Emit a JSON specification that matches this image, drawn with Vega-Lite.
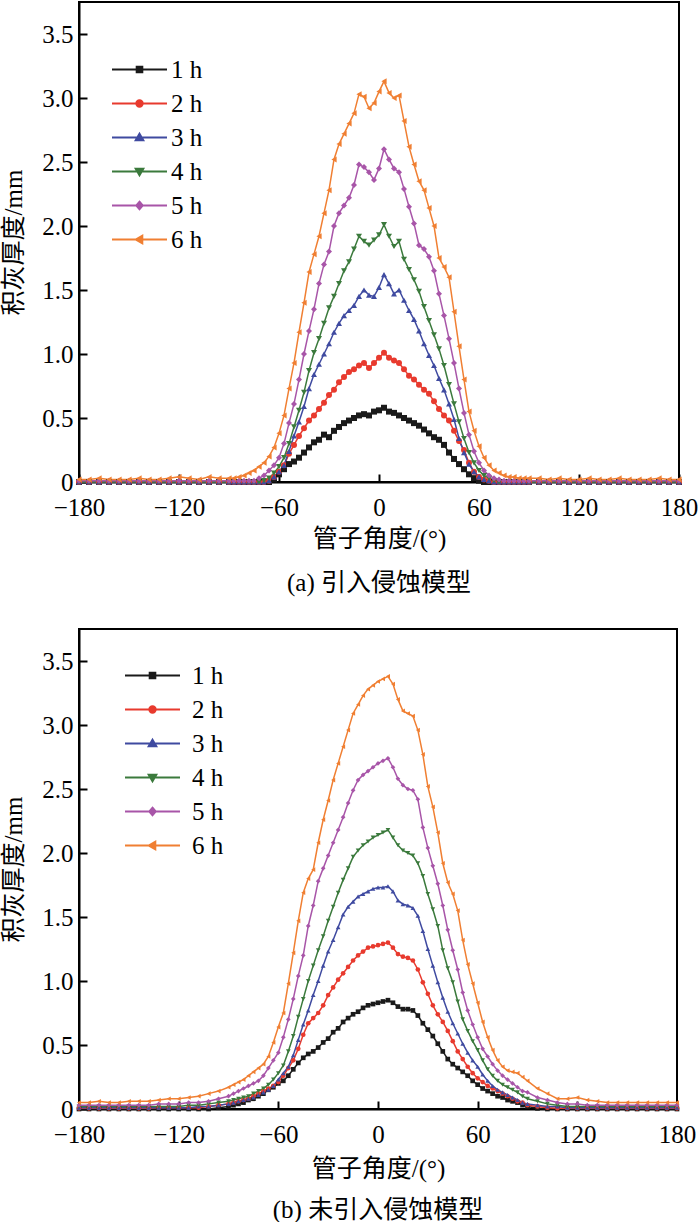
{
"$schema": "https://vega.github.io/schema/vega-lite/v6.json",
"background": "white",
"padding": {"left": 0, "top": 1, "right": 18, "bottom": 0},
"spacing": 31,
"resolve": {"scale": {"color": "independent", "shape": "independent"}, "legend": {"color": "independent", "shape": "independent"}},
"config": {
  "font": "Liberation Serif",
  "view": {"stroke": "black", "strokeWidth": 2},
  "axis": {"grid": false, "domainColor": "black", "domainWidth": 2, "tickColor": "black", "tickWidth": 2, "tickSize": -8, "labelFont": "Liberation Serif", "labelFontSize": 25, "labelColor": "black", "labelFlush": false, "labelOverlap": false, "titleFont": "Liberation Serif, Noto Sans CJK SC", "titleFontSize": 25, "titleFontWeight": "normal", "titleColor": "black"},
  "legend": {"title": null, "orient": "none", "labelFont": "Liberation Serif", "labelFontSize": 25, "labelColor": "black", "symbolSize": 400, "symbolStrokeWidth": 2, "symbolOpacity": 1, "rowPadding": 8, "padding": 0}
},
"datasets": {
"a": [
{"a":-180,"1 h":0,"2 h":0,"3 h":0,"4 h":0,"5 h":0.01,"6 h":0.02},
{"a":-174,"1 h":0,"2 h":0,"3 h":0,"4 h":0,"5 h":0.01,"6 h":0.02},
{"a":-168,"1 h":0,"2 h":0,"3 h":0,"4 h":0,"5 h":0.01,"6 h":0.03},
{"a":-162,"1 h":0,"2 h":0,"3 h":0,"4 h":0,"5 h":0.01,"6 h":0.02},
{"a":-156,"1 h":0,"2 h":0,"3 h":0,"4 h":0,"5 h":0.01,"6 h":0.02},
{"a":-150,"1 h":0,"2 h":0,"3 h":0,"4 h":0,"5 h":0.01,"6 h":0.02},
{"a":-144,"1 h":0,"2 h":0,"3 h":0,"4 h":0,"5 h":0.01,"6 h":0.03},
{"a":-138,"1 h":0,"2 h":0,"3 h":0,"4 h":0,"5 h":0.01,"6 h":0.02},
{"a":-132,"1 h":0,"2 h":0,"3 h":0,"4 h":0,"5 h":0.01,"6 h":0.02},
{"a":-126,"1 h":0,"2 h":0,"3 h":0,"4 h":0,"5 h":0.01,"6 h":0.03},
{"a":-120,"1 h":0,"2 h":0,"3 h":0,"4 h":0,"5 h":0.01,"6 h":0.04},
{"a":-114,"1 h":0,"2 h":0,"3 h":0,"4 h":0,"5 h":0.01,"6 h":0.03},
{"a":-108,"1 h":0,"2 h":0,"3 h":0,"4 h":0,"5 h":0.01,"6 h":0.02},
{"a":-102,"1 h":0,"2 h":0,"3 h":0,"4 h":0,"5 h":0.01,"6 h":0.04},
{"a":-96,"1 h":0,"2 h":0,"3 h":0,"4 h":0,"5 h":0.01,"6 h":0.03},
{"a":-90,"1 h":0,"2 h":0,"3 h":0,"4 h":0,"5 h":0.01,"6 h":0.03},
{"a":-87,"1 h":0,"2 h":0,"3 h":0,"4 h":0,"5 h":0.01,"6 h":0.03},
{"a":-84,"1 h":0,"2 h":0,"3 h":0,"4 h":0,"5 h":0.01,"6 h":0.04},
{"a":-81,"1 h":0,"2 h":0,"3 h":0,"4 h":0,"5 h":0.01,"6 h":0.05},
{"a":-78,"1 h":0,"2 h":0,"3 h":0,"4 h":0,"5 h":0.01,"6 h":0.07},
{"a":-75,"1 h":0,"2 h":0,"3 h":0,"4 h":0,"5 h":0.01,"6 h":0.09},
{"a":-72,"1 h":0,"2 h":0,"3 h":0,"4 h":0,"5 h":0.03,"6 h":0.12},
{"a":-69,"1 h":0,"2 h":0,"3 h":0,"4 h":0.01,"5 h":0.05,"6 h":0.15},
{"a":-66,"1 h":0,"2 h":0.01,"3 h":0.01,"4 h":0.03,"5 h":0.09,"6 h":0.2},
{"a":-63,"1 h":0.02,"2 h":0.04,"3 h":0.04,"4 h":0.07,"5 h":0.13,"6 h":0.27},
{"a":-60,"1 h":0.06,"2 h":0.08,"3 h":0.08,"4 h":0.12,"5 h":0.19,"6 h":0.38},
{"a":-57,"1 h":0.1,"2 h":0.13,"3 h":0.13,"4 h":0.19,"5 h":0.3,"6 h":0.52},
{"a":-54,"1 h":0.14,"2 h":0.22,"3 h":0.24,"4 h":0.3,"5 h":0.46,"6 h":0.73},
{"a":-51,"1 h":0.16,"2 h":0.29,"3 h":0.36,"4 h":0.43,"5 h":0.61,"6 h":0.93},
{"a":-48,"1 h":0.19,"2 h":0.36,"3 h":0.47,"4 h":0.56,"5 h":0.8,"6 h":1.17},
{"a":-45,"1 h":0.23,"2 h":0.42,"3 h":0.59,"4 h":0.7,"5 h":1.0,"6 h":1.4},
{"a":-42,"1 h":0.27,"2 h":0.48,"3 h":0.73,"4 h":0.87,"5 h":1.18,"6 h":1.64},
{"a":-39,"1 h":0.31,"2 h":0.52,"3 h":0.84,"4 h":1.01,"5 h":1.35,"6 h":1.78},
{"a":-36,"1 h":0.33,"2 h":0.57,"3 h":0.92,"4 h":1.12,"5 h":1.55,"6 h":1.92},
{"a":-33,"1 h":0.37,"2 h":0.62,"3 h":1.0,"4 h":1.24,"5 h":1.7,"6 h":2.1},
{"a":-30,"1 h":0.35,"2 h":0.68,"3 h":1.08,"4 h":1.36,"5 h":1.8,"6 h":2.28},
{"a":-27,"1 h":0.4,"2 h":0.72,"3 h":1.17,"4 h":1.45,"5 h":2.0,"6 h":2.52},
{"a":-24,"1 h":0.43,"2 h":0.78,"3 h":1.24,"4 h":1.55,"5 h":2.1,"6 h":2.64},
{"a":-21,"1 h":0.46,"2 h":0.82,"3 h":1.3,"4 h":1.65,"5 h":2.16,"6 h":2.72},
{"a":-18,"1 h":0.48,"2 h":0.86,"3 h":1.34,"4 h":1.72,"5 h":2.22,"6 h":2.8},
{"a":-15,"1 h":0.5,"2 h":0.88,"3 h":1.38,"4 h":1.82,"5 h":2.32,"6 h":2.88},
{"a":-12,"1 h":0.52,"2 h":0.91,"3 h":1.45,"4 h":1.92,"5 h":2.48,"6 h":3.03},
{"a":-9,"1 h":0.53,"2 h":0.93,"3 h":1.5,"4 h":1.88,"5 h":2.46,"6 h":3.01},
{"a":-6,"1 h":0.52,"2 h":0.89,"3 h":1.46,"4 h":1.85,"5 h":2.42,"6 h":2.92},
{"a":-3,"1 h":0.55,"2 h":0.93,"3 h":1.45,"4 h":1.89,"5 h":2.36,"6 h":2.96},
{"a":0,"1 h":0.56,"2 h":0.97,"3 h":1.52,"4 h":1.93,"5 h":2.45,"6 h":3.05},
{"a":3,"1 h":0.58,"2 h":1.01,"3 h":1.62,"4 h":2.01,"5 h":2.6,"6 h":3.13},
{"a":6,"1 h":0.55,"2 h":0.97,"3 h":1.55,"4 h":1.92,"5 h":2.52,"6 h":3.04},
{"a":9,"1 h":0.54,"2 h":0.95,"3 h":1.47,"4 h":1.84,"5 h":2.45,"6 h":3.0},
{"a":12,"1 h":0.52,"2 h":0.93,"3 h":1.5,"4 h":1.88,"5 h":2.42,"6 h":3.02},
{"a":15,"1 h":0.5,"2 h":0.88,"3 h":1.42,"4 h":1.74,"5 h":2.29,"6 h":2.82},
{"a":18,"1 h":0.48,"2 h":0.83,"3 h":1.34,"4 h":1.66,"5 h":2.15,"6 h":2.62},
{"a":21,"1 h":0.46,"2 h":0.8,"3 h":1.27,"4 h":1.58,"5 h":2.02,"6 h":2.48},
{"a":24,"1 h":0.44,"2 h":0.76,"3 h":1.18,"4 h":1.49,"5 h":1.85,"6 h":2.35},
{"a":27,"1 h":0.41,"2 h":0.72,"3 h":1.08,"4 h":1.37,"5 h":1.82,"6 h":2.28},
{"a":30,"1 h":0.38,"2 h":0.69,"3 h":0.99,"4 h":1.26,"5 h":1.76,"6 h":2.14},
{"a":33,"1 h":0.35,"2 h":0.63,"3 h":0.91,"4 h":1.15,"5 h":1.65,"6 h":2.0},
{"a":36,"1 h":0.33,"2 h":0.57,"3 h":0.81,"4 h":1.04,"5 h":1.47,"6 h":1.75},
{"a":39,"1 h":0.29,"2 h":0.52,"3 h":0.72,"4 h":0.91,"5 h":1.3,"6 h":1.68},
{"a":42,"1 h":0.23,"2 h":0.48,"3 h":0.61,"4 h":0.76,"5 h":1.12,"6 h":1.6},
{"a":45,"1 h":0.18,"2 h":0.4,"3 h":0.49,"4 h":0.61,"5 h":0.93,"6 h":1.33},
{"a":48,"1 h":0.14,"2 h":0.32,"3 h":0.34,"4 h":0.47,"5 h":0.73,"6 h":1.06},
{"a":51,"1 h":0.1,"2 h":0.25,"3 h":0.23,"4 h":0.34,"5 h":0.54,"6 h":0.8},
{"a":54,"1 h":0.06,"2 h":0.15,"3 h":0.14,"4 h":0.23,"5 h":0.37,"6 h":0.55},
{"a":57,"1 h":0.03,"2 h":0.08,"3 h":0.08,"4 h":0.15,"5 h":0.24,"6 h":0.4},
{"a":60,"1 h":0.01,"2 h":0.04,"3 h":0.04,"4 h":0.09,"5 h":0.15,"6 h":0.28},
{"a":63,"1 h":0,"2 h":0.02,"3 h":0.02,"4 h":0.05,"5 h":0.09,"6 h":0.19},
{"a":66,"1 h":0,"2 h":0.01,"3 h":0.01,"4 h":0.03,"5 h":0.05,"6 h":0.13},
{"a":69,"1 h":0,"2 h":0,"3 h":0,"4 h":0.01,"5 h":0.03,"6 h":0.09},
{"a":72,"1 h":0,"2 h":0,"3 h":0,"4 h":0,"5 h":0.02,"6 h":0.07},
{"a":75,"1 h":0,"2 h":0,"3 h":0,"4 h":0,"5 h":0.01,"6 h":0.05},
{"a":78,"1 h":0,"2 h":0,"3 h":0,"4 h":0,"5 h":0.01,"6 h":0.04},
{"a":81,"1 h":0,"2 h":0,"3 h":0,"4 h":0,"5 h":0.01,"6 h":0.04},
{"a":84,"1 h":0,"2 h":0,"3 h":0,"4 h":0,"5 h":0.01,"6 h":0.03},
{"a":87,"1 h":0,"2 h":0,"3 h":0,"4 h":0,"5 h":0.01,"6 h":0.03},
{"a":90,"1 h":0,"2 h":0,"3 h":0,"4 h":0,"5 h":0.01,"6 h":0.03},
{"a":96,"1 h":0,"2 h":0,"3 h":0,"4 h":0,"5 h":0.01,"6 h":0.03},
{"a":102,"1 h":0,"2 h":0,"3 h":0,"4 h":0,"5 h":0.01,"6 h":0.02},
{"a":108,"1 h":0,"2 h":0,"3 h":0,"4 h":0,"5 h":0.01,"6 h":0.03},
{"a":114,"1 h":0,"2 h":0,"3 h":0,"4 h":0,"5 h":0.01,"6 h":0.02},
{"a":120,"1 h":0,"2 h":0,"3 h":0,"4 h":0,"5 h":0.01,"6 h":0.02},
{"a":126,"1 h":0,"2 h":0,"3 h":0,"4 h":0,"5 h":0.01,"6 h":0.03},
{"a":132,"1 h":0,"2 h":0,"3 h":0,"4 h":0,"5 h":0.01,"6 h":0.02},
{"a":138,"1 h":0,"2 h":0,"3 h":0,"4 h":0,"5 h":0.01,"6 h":0.02},
{"a":144,"1 h":0,"2 h":0,"3 h":0,"4 h":0,"5 h":0.01,"6 h":0.03},
{"a":150,"1 h":0,"2 h":0,"3 h":0,"4 h":0,"5 h":0.01,"6 h":0.02},
{"a":156,"1 h":0,"2 h":0,"3 h":0,"4 h":0,"5 h":0.01,"6 h":0.02},
{"a":162,"1 h":0,"2 h":0,"3 h":0,"4 h":0,"5 h":0.01,"6 h":0.02},
{"a":168,"1 h":0,"2 h":0,"3 h":0,"4 h":0,"5 h":0.01,"6 h":0.03},
{"a":174,"1 h":0,"2 h":0,"3 h":0,"4 h":0,"5 h":0.01,"6 h":0.02},
{"a":180,"1 h":0,"2 h":0,"3 h":0,"4 h":0,"5 h":0.01,"6 h":0.02}
],
"b": [
{"a":-180,"1 h":0,"2 h":0.005,"3 h":0.01,"4 h":0.02,"5 h":0.03,"6 h":0.05},
{"a":-174,"1 h":0,"2 h":0.005,"3 h":0.01,"4 h":0.02,"5 h":0.03,"6 h":0.05},
{"a":-168,"1 h":0,"2 h":0.005,"3 h":0.01,"4 h":0.02,"5 h":0.03,"6 h":0.06},
{"a":-162,"1 h":0,"2 h":0.005,"3 h":0.01,"4 h":0.02,"5 h":0.03,"6 h":0.05},
{"a":-156,"1 h":0,"2 h":0.005,"3 h":0.01,"4 h":0.02,"5 h":0.03,"6 h":0.05},
{"a":-150,"1 h":0,"2 h":0.005,"3 h":0.01,"4 h":0.02,"5 h":0.03,"6 h":0.06},
{"a":-144,"1 h":0,"2 h":0.005,"3 h":0.01,"4 h":0.02,"5 h":0.03,"6 h":0.06},
{"a":-138,"1 h":0,"2 h":0.005,"3 h":0.01,"4 h":0.02,"5 h":0.03,"6 h":0.06},
{"a":-132,"1 h":0,"2 h":0.01,"3 h":0.01,"4 h":0.02,"5 h":0.04,"6 h":0.07},
{"a":-126,"1 h":0,"2 h":0.01,"3 h":0.01,"4 h":0.02,"5 h":0.04,"6 h":0.08},
{"a":-120,"1 h":0,"2 h":0.01,"3 h":0.01,"4 h":0.02,"5 h":0.04,"6 h":0.08},
{"a":-114,"1 h":0,"2 h":0.01,"3 h":0.01,"4 h":0.03,"5 h":0.05,"6 h":0.09},
{"a":-108,"1 h":0,"2 h":0.01,"3 h":0.02,"4 h":0.03,"5 h":0.05,"6 h":0.1},
{"a":-102,"1 h":0,"2 h":0.02,"3 h":0.02,"4 h":0.04,"5 h":0.06,"6 h":0.12},
{"a":-96,"1 h":0.01,"2 h":0.03,"3 h":0.03,"4 h":0.05,"5 h":0.08,"6 h":0.14},
{"a":-90,"1 h":0.02,"2 h":0.04,"3 h":0.04,"4 h":0.06,"5 h":0.1,"6 h":0.17},
{"a":-87,"1 h":0.03,"2 h":0.05,"3 h":0.05,"4 h":0.07,"5 h":0.12,"6 h":0.19},
{"a":-84,"1 h":0.04,"2 h":0.06,"3 h":0.06,"4 h":0.08,"5 h":0.14,"6 h":0.21},
{"a":-81,"1 h":0.05,"2 h":0.07,"3 h":0.07,"4 h":0.09,"5 h":0.16,"6 h":0.23},
{"a":-78,"1 h":0.07,"2 h":0.08,"3 h":0.08,"4 h":0.1,"5 h":0.18,"6 h":0.26},
{"a":-75,"1 h":0.08,"2 h":0.1,"3 h":0.09,"4 h":0.12,"5 h":0.2,"6 h":0.29},
{"a":-72,"1 h":0.1,"2 h":0.12,"3 h":0.11,"4 h":0.14,"5 h":0.22,"6 h":0.32},
{"a":-69,"1 h":0.12,"2 h":0.14,"3 h":0.13,"4 h":0.16,"5 h":0.26,"6 h":0.35},
{"a":-66,"1 h":0.15,"2 h":0.16,"3 h":0.15,"4 h":0.19,"5 h":0.32,"6 h":0.41},
{"a":-63,"1 h":0.17,"2 h":0.18,"3 h":0.18,"4 h":0.23,"5 h":0.38,"6 h":0.52},
{"a":-60,"1 h":0.2,"2 h":0.21,"3 h":0.23,"4 h":0.28,"5 h":0.44,"6 h":0.64},
{"a":-57,"1 h":0.22,"2 h":0.26,"3 h":0.28,"4 h":0.34,"5 h":0.56,"6 h":0.75},
{"a":-54,"1 h":0.26,"2 h":0.32,"3 h":0.33,"4 h":0.45,"5 h":0.7,"6 h":0.98},
{"a":-51,"1 h":0.31,"2 h":0.38,"3 h":0.42,"4 h":0.57,"5 h":0.86,"6 h":1.22},
{"a":-48,"1 h":0.36,"2 h":0.47,"3 h":0.54,"4 h":0.72,"5 h":1.04,"6 h":1.47},
{"a":-45,"1 h":0.4,"2 h":0.58,"3 h":0.66,"4 h":0.86,"5 h":1.2,"6 h":1.69},
{"a":-42,"1 h":0.43,"2 h":0.67,"3 h":0.77,"4 h":1.0,"5 h":1.43,"6 h":1.8},
{"a":-39,"1 h":0.45,"2 h":0.71,"3 h":0.89,"4 h":1.12,"5 h":1.59,"6 h":1.87},
{"a":-36,"1 h":0.48,"2 h":0.75,"3 h":1.0,"4 h":1.24,"5 h":1.78,"6 h":2.08},
{"a":-33,"1 h":0.52,"2 h":0.81,"3 h":1.12,"4 h":1.35,"5 h":1.88,"6 h":2.26},
{"a":-30,"1 h":0.55,"2 h":0.89,"3 h":1.23,"4 h":1.47,"5 h":1.98,"6 h":2.41},
{"a":-27,"1 h":0.6,"2 h":0.95,"3 h":1.32,"4 h":1.58,"5 h":2.08,"6 h":2.57},
{"a":-24,"1 h":0.63,"2 h":1.01,"3 h":1.42,"4 h":1.69,"5 h":2.18,"6 h":2.7},
{"a":-21,"1 h":0.68,"2 h":1.06,"3 h":1.52,"4 h":1.79,"5 h":2.28,"6 h":2.83},
{"a":-18,"1 h":0.71,"2 h":1.11,"3 h":1.58,"4 h":1.88,"5 h":2.39,"6 h":2.96},
{"a":-15,"1 h":0.74,"2 h":1.16,"3 h":1.62,"4 h":1.97,"5 h":2.49,"6 h":3.09},
{"a":-12,"1 h":0.76,"2 h":1.2,"3 h":1.66,"4 h":2.02,"5 h":2.57,"6 h":3.16},
{"a":-9,"1 h":0.79,"2 h":1.23,"3 h":1.68,"4 h":2.06,"5 h":2.61,"6 h":3.23},
{"a":-6,"1 h":0.81,"2 h":1.26,"3 h":1.7,"4 h":2.09,"5 h":2.64,"6 h":3.28},
{"a":-3,"1 h":0.82,"2 h":1.27,"3 h":1.72,"4 h":2.12,"5 h":2.67,"6 h":3.31},
{"a":0,"1 h":0.83,"2 h":1.28,"3 h":1.73,"4 h":2.14,"5 h":2.7,"6 h":3.34},
{"a":3,"1 h":0.84,"2 h":1.29,"3 h":1.73,"4 h":2.16,"5 h":2.72,"6 h":3.36},
{"a":6,"1 h":0.85,"2 h":1.3,"3 h":1.74,"4 h":2.18,"5 h":2.74,"6 h":3.38},
{"a":9,"1 h":0.83,"2 h":1.26,"3 h":1.7,"4 h":2.12,"5 h":2.67,"6 h":3.32},
{"a":12,"1 h":0.8,"2 h":1.21,"3 h":1.63,"4 h":2.06,"5 h":2.58,"6 h":3.2},
{"a":15,"1 h":0.78,"2 h":1.19,"3 h":1.6,"4 h":2.02,"5 h":2.53,"6 h":3.11},
{"a":18,"1 h":0.78,"2 h":1.18,"3 h":1.59,"4 h":2.0,"5 h":2.5,"6 h":3.09},
{"a":21,"1 h":0.77,"2 h":1.16,"3 h":1.57,"4 h":1.98,"5 h":2.49,"6 h":3.07},
{"a":24,"1 h":0.73,"2 h":1.09,"3 h":1.51,"4 h":1.92,"5 h":2.42,"6 h":2.96},
{"a":27,"1 h":0.67,"2 h":0.99,"3 h":1.39,"4 h":1.82,"5 h":2.2,"6 h":2.77},
{"a":30,"1 h":0.62,"2 h":0.9,"3 h":1.25,"4 h":1.68,"5 h":2.04,"6 h":2.52},
{"a":33,"1 h":0.57,"2 h":0.81,"3 h":1.12,"4 h":1.56,"5 h":1.9,"6 h":2.36},
{"a":36,"1 h":0.51,"2 h":0.74,"3 h":0.99,"4 h":1.43,"5 h":1.76,"6 h":2.16},
{"a":39,"1 h":0.45,"2 h":0.68,"3 h":0.87,"4 h":1.24,"5 h":1.59,"6 h":1.92},
{"a":42,"1 h":0.39,"2 h":0.61,"3 h":0.76,"4 h":1.1,"5 h":1.4,"6 h":1.77},
{"a":45,"1 h":0.35,"2 h":0.53,"3 h":0.67,"4 h":0.99,"5 h":1.24,"6 h":1.68},
{"a":48,"1 h":0.32,"2 h":0.45,"3 h":0.59,"4 h":0.84,"5 h":1.09,"6 h":1.55},
{"a":51,"1 h":0.29,"2 h":0.39,"3 h":0.51,"4 h":0.7,"5 h":0.91,"6 h":1.32},
{"a":54,"1 h":0.26,"2 h":0.33,"3 h":0.44,"4 h":0.61,"5 h":0.77,"6 h":1.13},
{"a":57,"1 h":0.22,"2 h":0.28,"3 h":0.38,"4 h":0.53,"5 h":0.66,"6 h":0.98},
{"a":60,"1 h":0.19,"2 h":0.24,"3 h":0.33,"4 h":0.46,"5 h":0.56,"6 h":0.83},
{"a":63,"1 h":0.16,"2 h":0.21,"3 h":0.27,"4 h":0.38,"5 h":0.47,"6 h":0.68},
{"a":66,"1 h":0.14,"2 h":0.18,"3 h":0.22,"4 h":0.31,"5 h":0.41,"6 h":0.56},
{"a":69,"1 h":0.12,"2 h":0.16,"3 h":0.18,"4 h":0.26,"5 h":0.35,"6 h":0.46},
{"a":72,"1 h":0.1,"2 h":0.14,"3 h":0.15,"4 h":0.22,"5 h":0.3,"6 h":0.38},
{"a":75,"1 h":0.09,"2 h":0.12,"3 h":0.13,"4 h":0.19,"5 h":0.26,"6 h":0.33},
{"a":78,"1 h":0.07,"2 h":0.1,"3 h":0.11,"4 h":0.17,"5 h":0.23,"6 h":0.3},
{"a":81,"1 h":0.06,"2 h":0.08,"3 h":0.09,"4 h":0.15,"5 h":0.2,"6 h":0.29},
{"a":84,"1 h":0.05,"2 h":0.06,"3 h":0.07,"4 h":0.13,"5 h":0.17,"6 h":0.28},
{"a":87,"1 h":0.03,"2 h":0.05,"3 h":0.05,"4 h":0.1,"5 h":0.14,"6 h":0.25},
{"a":90,"1 h":0.02,"2 h":0.03,"3 h":0.04,"4 h":0.08,"5 h":0.13,"6 h":0.22},
{"a":96,"1 h":0.005,"2 h":0.02,"3 h":0.03,"4 h":0.06,"5 h":0.09,"6 h":0.16},
{"a":102,"1 h":0,"2 h":0.01,"3 h":0.02,"4 h":0.04,"5 h":0.07,"6 h":0.12},
{"a":108,"1 h":0,"2 h":0.005,"3 h":0.02,"4 h":0.03,"5 h":0.05,"6 h":0.08},
{"a":114,"1 h":0,"2 h":0.005,"3 h":0.01,"4 h":0.02,"5 h":0.04,"6 h":0.08},
{"a":120,"1 h":0,"2 h":0.005,"3 h":0.01,"4 h":0.02,"5 h":0.04,"6 h":0.09},
{"a":126,"1 h":0,"2 h":0.005,"3 h":0.01,"4 h":0.02,"5 h":0.03,"6 h":0.07},
{"a":132,"1 h":0,"2 h":0.005,"3 h":0.01,"4 h":0.02,"5 h":0.03,"6 h":0.06},
{"a":138,"1 h":0,"2 h":0.005,"3 h":0.01,"4 h":0.02,"5 h":0.03,"6 h":0.05},
{"a":144,"1 h":0,"2 h":0.005,"3 h":0.01,"4 h":0.02,"5 h":0.03,"6 h":0.05},
{"a":150,"1 h":0,"2 h":0.005,"3 h":0.01,"4 h":0.02,"5 h":0.03,"6 h":0.05},
{"a":156,"1 h":0,"2 h":0.005,"3 h":0.01,"4 h":0.02,"5 h":0.03,"6 h":0.05},
{"a":162,"1 h":0,"2 h":0.005,"3 h":0.01,"4 h":0.02,"5 h":0.03,"6 h":0.05},
{"a":168,"1 h":0,"2 h":0.005,"3 h":0.01,"4 h":0.02,"5 h":0.03,"6 h":0.05},
{"a":174,"1 h":0,"2 h":0.005,"3 h":0.01,"4 h":0.02,"5 h":0.03,"6 h":0.05},
{"a":180,"1 h":0,"2 h":0.005,"3 h":0.01,"4 h":0.02,"5 h":0.03,"6 h":0.05}
]
},
"vconcat": [
{
  "width": 600, "height": 480,
  "data": {"name": "a"},
  "transform": [{"fold": ["1 h","2 h","3 h","4 h","5 h","6 h"], "as": ["series","value"]}],
  "title": {"text": "(a) 引入侵蚀模型", "orient": "bottom", "font": "Liberation Serif, Noto Sans CJK SC", "fontSize": 25, "fontWeight": "normal", "color": "black", "offset": 20},
  "encoding": {
    "x": {"field": "a", "type": "quantitative", "scale": {"domain": [-180, 180], "nice": false, "zero": false}, "axis": {"values": [-180,-120,-60,0,60,120,180], "title": "管子角度/(°)", "labelPadding": 21, "titlePadding": 6}},
    "y": {"field": "value", "type": "quantitative", "scale": {"domain": [0, 3.75], "nice": false}, "axis": {"values": [0,0.5,1,1.5,2,2.5,3,3.5], "labelExpr": "datum.value == 0 ? '0' : format(datum.value, '.1f')", "title": "积灰厚度/mm", "labelPadding": 14, "titlePadding": 15, "encode": {"labels": {"update": {"dy": {"signal": "datum.value == 0 ? -3 : 0"}}}}}},
    "color": {"field": "series", "type": "nominal", "scale": {"domain": ["1 h","2 h","3 h","4 h","5 h","6 h"], "range": ["#1a1a1a","#e83a2e","#3f4aa0","#3b7a3c","#a855a8","#f07f32"]},
      "legend": {"legendX": 48, "legendY": 55, "labelOffset": 19, "encode": {"symbols": {"update": {
        "shape": {"signal": "['M-2.75,0H2.75M-0.28,-0.28H0.28V0.28H-0.28Z','M-2.75,0H2.75M-0.32,0A0.32,0.32,0,1,0,0.32,0A0.32,0.32,0,1,0,-0.32,0Z','M-2.75,0H2.75M0,-0.38L0.38,0.28H-0.38Z','M-2.75,0H2.75M0,0.38L0.38,-0.28H-0.38Z','M-2.75,0H2.75M0,-0.38L0.32,0L0,0.38L-0.32,0Z','M-2.75,0H2.75M-0.38,0L0.28,-0.38V0.38Z'][indexof(['1 h','2 h','3 h','4 h','5 h','6 h'], datum.value)]"},
        "fill": {"signal": "['#1a1a1a','#e83a2e','#3f4aa0','#3b7a3c','#a855a8','#f07f32'][indexof(['1 h','2 h','3 h','4 h','5 h','6 h'], datum.value)]"},
        "stroke": {"signal": "['#1a1a1a','#e83a2e','#3f4aa0','#3b7a3c','#a855a8','#f07f32'][indexof(['1 h','2 h','3 h','4 h','5 h','6 h'], datum.value)]"},
        "strokeWidth": {"value": 2}, "size": {"value": 400}, "opacity": {"value": 1}}}}}}
  },
  "layer": [
    {"mark": {"type": "line", "strokeWidth": 1.5}},
    {"mark": {"type": "point", "filled": true, "size": 36, "opacity": 1}, "encoding": {"shape": {"field": "series", "type": "nominal", "scale": {"range": ["square","circle","triangle-up","triangle-down","diamond","triangle-left"]}, "legend": null}}}
  ]
},
{
  "width": 598, "height": 480,
  "data": {"name": "b"},
  "transform": [{"fold": ["1 h","2 h","3 h","4 h","5 h","6 h"], "as": ["series","value"]}],
  "title": {"text": "(b) 未引入侵蚀模型", "orient": "bottom", "font": "Liberation Serif, Noto Sans CJK SC", "fontSize": 25, "fontWeight": "normal", "color": "black", "offset": 17},
  "encoding": {
    "x": {"field": "a", "type": "quantitative", "scale": {"domain": [-180, 180], "nice": false, "zero": false}, "axis": {"values": [-180,-120,-60,0,60,120,180], "title": "管子角度/(°)", "labelPadding": 21, "titlePadding": 9}},
    "y": {"field": "value", "type": "quantitative", "scale": {"domain": [0, 3.75], "nice": false}, "axis": {"values": [0,0.5,1,1.5,2,2.5,3,3.5], "labelExpr": "datum.value == 0 ? '0' : format(datum.value, '.1f')", "title": "积灰厚度/mm", "labelPadding": 14, "titlePadding": 15, "encode": {"labels": {"update": {"dy": {"signal": "datum.value == 0 ? -3 : 0"}}}}}},
    "color": {"field": "series", "type": "nominal", "scale": {"domain": ["1 h","2 h","3 h","4 h","5 h","6 h"], "range": ["#1a1a1a","#e83a2e","#3f4aa0","#3b7a3c","#a855a8","#f07f32"]},
      "legend": {"legendX": 61, "legendY": 34, "labelOffset": 27, "encode": {"symbols": {"update": {
        "shape": {"signal": "['M-2.75,0H2.75M-0.28,-0.28H0.28V0.28H-0.28Z','M-2.75,0H2.75M-0.32,0A0.32,0.32,0,1,0,0.32,0A0.32,0.32,0,1,0,-0.32,0Z','M-2.75,0H2.75M0,-0.38L0.38,0.28H-0.38Z','M-2.75,0H2.75M0,0.38L0.38,-0.28H-0.38Z','M-2.75,0H2.75M0,-0.38L0.32,0L0,0.38L-0.32,0Z','M-2.75,0H2.75M-0.38,0L0.28,-0.38V0.38Z'][indexof(['1 h','2 h','3 h','4 h','5 h','6 h'], datum.value)]"},
        "fill": {"signal": "['#1a1a1a','#e83a2e','#3f4aa0','#3b7a3c','#a855a8','#f07f32'][indexof(['1 h','2 h','3 h','4 h','5 h','6 h'], datum.value)]"},
        "stroke": {"signal": "['#1a1a1a','#e83a2e','#3f4aa0','#3b7a3c','#a855a8','#f07f32'][indexof(['1 h','2 h','3 h','4 h','5 h','6 h'], datum.value)]"},
        "strokeWidth": {"value": 2}, "size": {"value": 400}, "opacity": {"value": 1}}}}}}
  },
  "layer": [
    {"mark": {"type": "line", "strokeWidth": 1.5}},
    {"mark": {"type": "point", "filled": true, "size": 22, "opacity": 1}, "encoding": {"shape": {"field": "series", "type": "nominal", "scale": {"range": ["square","circle","triangle-up","triangle-down","diamond","triangle-left"]}, "legend": null}}}
  ]
}
]
}
